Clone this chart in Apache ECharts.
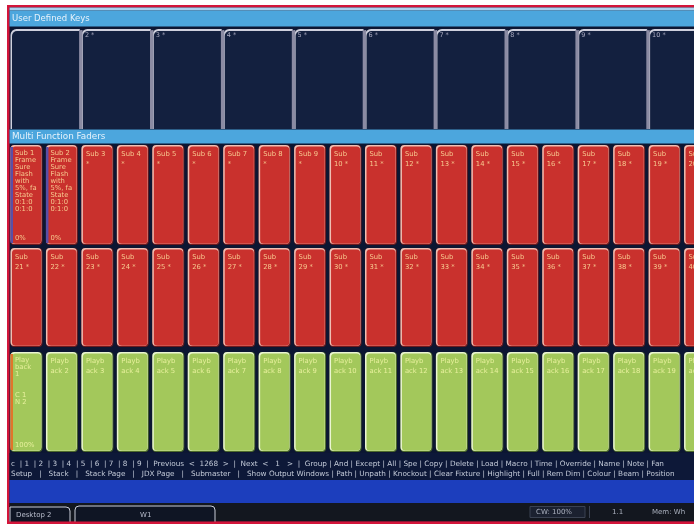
<!DOCTYPE html>
<html><head><meta charset="utf-8">
<script src="https://cdn.jsdelivr.net/npm/echarts@6/dist/echarts.min.js"></script>
<style>html,body{margin:0;padding:0;background:#fff}#c{width:694px;height:524px}</style>
</head><body><div id="c"></div>
<script>
// ---------- data ----------
const headers = ['User Defined Keys', 'Multi Function Faders'];
const keyLabels = ['', '2 *', '3 *', '4 *', '5 *', '6 *', '7 *', '8 *', '9 *', '10 *'];
const faderRow1Labels = [
  'Sub 1\nFrame\nSure\nFlash\nwith\n5%, fa\nState\n0:1:0\n0:1:0',
  'Sub 2\nFrame\nSure\nFlash\nwith\n5%, fa\nState\n0:1:0\n0:1:0',
  'Sub 3\n*', 'Sub 4\n*', 'Sub 5\n*', 'Sub 6\n*', 'Sub 7\n*', 'Sub 8\n*', 'Sub 9\n*',
  'Sub\n10 *', 'Sub\n11 *', 'Sub\n12 *', 'Sub\n13 *', 'Sub\n14 *', 'Sub\n15 *',
  'Sub\n16 *', 'Sub\n17 *', 'Sub\n18 *', 'Sub\n19 *', 'Sub\n20 *'
];
const faderRow1Levels = ['0%', '0%', '', '', '', '', '', '', '', '', '', '', '', '', '', '', '', '', '', ''];
const faderRow2Labels = [
  'Sub\n21 *', 'Sub\n22 *', 'Sub\n23 *', 'Sub\n24 *', 'Sub\n25 *', 'Sub\n26 *', 'Sub\n27 *',
  'Sub\n28 *', 'Sub\n29 *', 'Sub\n30 *', 'Sub\n31 *', 'Sub\n32 *', 'Sub\n33 *', 'Sub\n34 *',
  'Sub\n35 *', 'Sub\n36 *', 'Sub\n37 *', 'Sub\n38 *', 'Sub\n39 *', 'Sub\n40 *'
];
const faderRow2Levels = ['', '', '', '', '', '', '', '', '', '', '', '', '', '', '', '', '', '', '', ''];
const playbackLabels = [
  'Play\nback\n1\n\n\nC 1\nN 2',
  'Playb\nack 2', 'Playb\nack 3', 'Playb\nack 4', 'Playb\nack 5', 'Playb\nack 6', 'Playb\nack 7',
  'Playb\nack 8', 'Playb\nack 9', 'Playb\nack 10', 'Playb\nack 11', 'Playb\nack 12', 'Playb\nack 13',
  'Playb\nack 14', 'Playb\nack 15', 'Playb\nack 16', 'Playb\nack 17', 'Playb\nack 18', 'Playb\nack 19',
  'Playb\nack 20'
];
const playbackLevels = ['100%', '', '', '', '', '', '', '', '', '', '', '', '', '', '', '', '', '', '', ''];
const commandDigits = ['c', '1', '2', '3', '4', '5', '6', '7', '8', '9'];
const commandPaging = ['Previous  <  1268  >', 'Next  <   1   >'];
const commandRow1 = ['Group', 'And', 'Except', 'All', 'Spe', 'Copy', 'Delete', 'Load', 'Macro', 'Time',
  'Override', 'Name', 'Note', 'Fan'];
const commandRow2Wide = ['Setup', 'Stack', 'Stack Page', 'JDX Page', 'Submaster', 'Show Output Windows'];
const commandRow2 = ['Path', 'Unpath', 'Knockout', 'Clear Fixture', 'Highlight', 'Full', 'Rem Dim',
  'Colour', 'Beam', 'Position'];
const desktopTabs = ['Desktop 2', 'W1'];
const statusItems = ['CW: 100%', '1.1', 'Mem: Wh'];

// ---------- styles ----------
const FONT = '"DejaVu Sans", "Liberation Sans", sans-serif';
const RED = {fill: '#c9312d', hi: '#efbfb3', sh: '#6e1a1e', text: '#f7c98f', active: '#5b4fa6'};
const GREEN = {fill: '#a3c85b', hi: '#eaf5d2', sh: '#4c6a2a', text: '#e7f09c', active: '#e0762a'};
const PITCH = 35.45;        // pixel width of one fader column
const LEFT = 10, VIEW_W = 684;

function faderRenderer(colors, labels, levels) {
  return function (params, api) {
    const i = params.dataIndex;
    const a = api.coord([api.value(0), 0]);
    const b = api.coord([api.value(0) + 1, 1]);
    const x = a[0] + 0.5, y = a[1], w = b[0] - a[0] - 3.5, h = b[1] - a[1];
    const label = labels[i];
    const lines = label.split('\n').length;
    const children = [
      {type: 'rect', shape: {x: x, y: y, width: w, height: h, r: 4}, style: {fill: colors.sh}},
      {type: 'rect', shape: {x: x, y: y, width: w - 1, height: h - 1, r: 4}, style: {fill: colors.hi}},
      {type: 'rect', shape: {x: x + 1.5, y: y + 1.5, width: w - 2.8, height: h - 2.8, r: 3.5}, style: {fill: colors.fill}}
    ];
    if (levels[i]) {
      children.push({type: 'rect', shape: {x: x, y: y + 2, width: 2.5, height: h - 4}, style: {fill: colors.active}});
    }
    children.push({type: 'text', style: {text: label, x: x + 4.5, y: y + 4.5, fill: colors.text,
      fontSize: 6.8, fontFamily: FONT, lineHeight: lines > 4 ? 7 : 9.5, textVerticalAlign: 'top'}});
    if (levels[i]) {
      children.push({type: 'text', style: {text: levels[i], x: x + 4.5, y: y + h - 3, fill: colors.text,
        fontSize: 6.8, fontFamily: FONT, textVerticalAlign: 'bottom'}});
    }
    return {type: 'group', children: children};
  };
}

function keyRenderer(params, api) {
  const i = params.dataIndex;
  const a = api.coord([api.value(0), 0]);
  const b = api.coord([api.value(0) + 2, 1]);
  const x0 = a[0], y0 = a[1], x1 = b[0], y1 = b[1];
  const children = [
    {type: 'rect', shape: {x: x0 + 0.5, y: y0, width: x1 - x0 - 1, height: y1 - y0, r: [6, 0, 0, 0]}, style: {fill: '#cfd0dd'}},
    {type: 'rect', shape: {x: x0 + 2, y: y0 + 2, width: x1 - x0 - 2.5, height: y1 - y0 - 2, r: [5, 0, 0, 0]}, style: {fill: '#13203f'}}
  ];
  if (i > 0) {
    children.push({type: 'rect', shape: {x: x0 - 1.8, y: y0 + 1, width: 3.4, height: y1 - y0 - 1}, style: {fill: '#8b8ba3'}});
    children.push({type: 'polygon', shape: {points: [[x0 - 3.5, y0 - 2], [x0 + 3.5, y0 - 2], [x0, y0 + 1.5]]}, style: {fill: '#0e1836'}});
  }
  children.push({type: 'text', style: {text: keyLabels[i], x: x0 + 4, y: y0 + 3, fill: '#a9a9bf',
    fontSize: 6.5, fontFamily: FONT, textVerticalAlign: 'top'}});
  return {type: 'group', children: children};
}

// ---------- layout ----------
const gridTops = [29, 145, 248, 352];
const gridHeights = [100, 100, 99, 100];
const grids = gridTops.map((t, k) => ({left: LEFT, top: t, width: VIEW_W, height: gridHeights[k]}));
const xAxes = grids.map((g, k) => ({type: 'value', gridIndex: k, min: 0, max: VIEW_W / PITCH, show: false}));
const yAxes = grids.map((g, k) => ({type: 'value', gridIndex: k, min: 0, max: 1, inverse: true, show: false}));

const idx = arr => arr.map((t, i) => [i]);
const line1 = commandDigits.join('  | ') + '  |  ' + commandPaging.join('  |  ') + '  |  ' + commandRow1.join(' | ');
const line2 = commandRow2Wide.join('   |   ') + ' | ' + commandRow2.join(' | ');

const graphics = [
  {type: 'rect', shape: {x: 0, y: 0, width: 694, height: 524}, style: {fill: '#ffffff'}},
  {type: 'rect', shape: {x: 7, y: 5, width: 700, height: 519}, style: {fill: '#d3153a'}},
  {type: 'rect', shape: {x: 9.5, y: 7.5, width: 690, height: 514}, style: {fill: '#0c1632'}},
  {type: 'rect', shape: {x: 9.5, y: 7.5, width: 690, height: 3}, style: {fill: '#a9d1ee'}},
  {type: 'rect', shape: {x: 9.5, y: 10.5, width: 690, height: 16}, style: {fill: '#4ca6dd'}},
  {type: 'text', style: {text: headers[0], x: 12, y: 18.5, fill: '#e6f2fb', fontSize: 8.5, fontFamily: FONT, textVerticalAlign: 'middle'}},
  {type: 'rect', shape: {x: 9.5, y: 129.5, width: 690, height: 14}, style: {fill: '#4ca6dd'}},
  {type: 'text', style: {text: headers[1], x: 12, y: 136.5, fill: '#e6f2fb', fontSize: 8.8, fontFamily: FONT, textVerticalAlign: 'middle'}},
  {type: 'rect', shape: {x: 9.5, y: 453, width: 690, height: 27}, style: {fill: '#0d1838'}},
  {type: 'text', style: {text: line1, x: 11, y: 464.5, fill: '#c3cad8', fontSize: 7.3, fontFamily: FONT, textVerticalAlign: 'middle'}},
  {type: 'text', style: {text: line2, x: 11, y: 474.5, fill: '#c3cad8', fontSize: 7.3, fontFamily: FONT, textVerticalAlign: 'middle'}},
  {type: 'rect', shape: {x: 9.5, y: 480, width: 690, height: 23}, style: {fill: '#1c3ebd'}},
  {type: 'rect', shape: {x: 9.5, y: 503, width: 690, height: 18.5}, style: {fill: '#13171f'}},
  {type: 'rect', shape: {x: 10, y: 507, width: 60, height: 16, r: [0, 4, 0, 0]}, style: {fill: '#0f1524', stroke: '#c9cdd8', lineWidth: 1}},
  {type: 'text', style: {text: desktopTabs[0], x: 16, y: 515, fill: '#b7bccb', fontSize: 7, fontFamily: FONT, textVerticalAlign: 'middle'}},
  {type: 'rect', shape: {x: 75, y: 506, width: 140, height: 17, r: [4, 4, 0, 0]}, style: {fill: '#0f1524', stroke: '#c9cdd8', lineWidth: 1}},
  {type: 'text', style: {text: desktopTabs[1], x: 140, y: 515, fill: '#b7bccb', fontSize: 7, fontFamily: FONT, textVerticalAlign: 'middle'}},
  {type: 'rect', shape: {x: 530, y: 506.5, width: 55, height: 11}, style: {fill: '#1b2130', stroke: '#3b4252', lineWidth: 1}},
  {type: 'text', style: {text: statusItems[0], x: 536, y: 512, fill: '#aab0be', fontSize: 7, fontFamily: FONT, textVerticalAlign: 'middle'}},
  {type: 'rect', shape: {x: 589, y: 506, width: 1, height: 12}, style: {fill: '#3b4252'}},
  {type: 'text', style: {text: statusItems[1], x: 612, y: 512, fill: '#aab0be', fontSize: 7, fontFamily: FONT, textVerticalAlign: 'middle'}},
  {type: 'text', style: {text: statusItems[2], x: 652, y: 512, fill: '#aab0be', fontSize: 7, fontFamily: FONT, textVerticalAlign: 'middle'}},
  {type: 'rect', shape: {x: 7, y: 521.5, width: 700, height: 3}, style: {fill: '#d3153a'}}
];

const chart = echarts.init(document.getElementById('c'), null, {renderer: 'canvas'});
chart.setOption({
  animation: false,
  backgroundColor: '#ffffff',
  graphic: {elements: graphics.map(g => Object.assign({z: 0, silent: true}, g))},
  grid: grids,
  xAxis: xAxes,
  yAxis: yAxes,
  series: [
    {type: 'custom', xAxisIndex: 0, yAxisIndex: 0, z: 5, clip: false, renderItem: keyRenderer,
      data: keyLabels.map((t, i) => [i * 2]), encode: {x: 0}},
    {type: 'custom', xAxisIndex: 1, yAxisIndex: 1, z: 5, clip: false, renderItem: faderRenderer(RED, faderRow1Labels, faderRow1Levels),
      data: idx(faderRow1Labels), encode: {x: 0}},
    {type: 'custom', xAxisIndex: 2, yAxisIndex: 2, z: 5, clip: false, renderItem: faderRenderer(RED, faderRow2Labels, faderRow2Levels),
      data: idx(faderRow2Labels), encode: {x: 0}},
    {type: 'custom', xAxisIndex: 3, yAxisIndex: 3, z: 5, clip: false, renderItem: faderRenderer(GREEN, playbackLabels, playbackLevels),
      data: idx(playbackLabels), encode: {x: 0}}
  ]
});
</script>
</body></html>
